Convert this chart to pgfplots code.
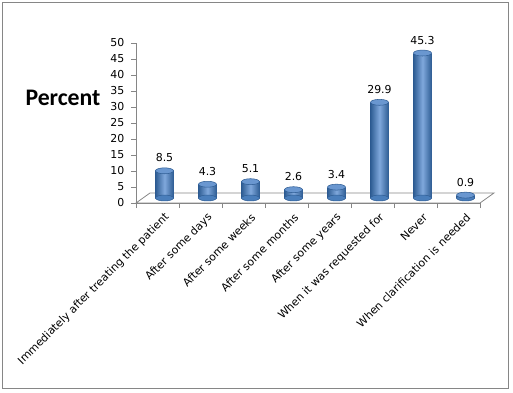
\documentclass[border=0pt]{standalone}
\usepackage{fontspec}
\setmainfont{DejaVu Sans}
\newfontfamily\carlito{Carlito}
\usepackage{pgfplots}
\pgfplotsset{compat=1.18}
\definecolor{barDark}{HTML}{2F5D94}
\definecolor{barMid}{HTML}{4A7EBB}
\definecolor{barLight}{HTML}{7FA8DC}
\definecolor{barTop}{HTML}{6A97D0}
\definecolor{axgray}{HTML}{868686}
\pgfplotsset{cyl/.style={ybar, bar shift=0pt, bar width=13.5pt, draw=none, left color=barDark, right color=barDark, middle color=barLight, xshift=5.25pt, yshift=3.75pt}}
\begin{document}
\begin{tikzpicture}
\useasboundingbox (-102pt,-141.75pt) rectangle (282.75pt,152.25pt);
\draw[axgray, line width=0.75pt] (-99.75pt,-138.75pt) rectangle (279pt,150pt);
\node[font=\carlito\bfseries\fontsize{17.8}{20}\selectfont] at (-54.75pt,78.75pt) {Percent};
\begin{axis}[
  at={(0,0)}, anchor=south west,
  scale only axis, width=258pt, height=120pt,
  xmin=0.5, xmax=8.5, ymin=0, ymax=50,
  axis lines=left,
  axis line style={draw=axgray, -, line width=0.6pt},
  ytick={0,5,...,50},
  tick align=outside,
  major tick length=3.75pt,
  tick style={draw=axgray, line width=0.6pt},
  xtick={0.5,1.5,...,8.5},
  xticklabels={},
  extra x ticks={1,2,...,8},
  extra x tick labels={Immediately after treating the patient, After some days, After some weeks, After some months, After some years, When it was requested for, Never, When clarification is needed},
  extra x tick style={major tick length=0pt, tick label style={rotate=45, anchor=east, xshift=2pt, yshift=-12pt}},
  tick label style={font=\fontsize{8.2}{9.5}\selectfont, text=black},
  yticklabel style={xshift=-1.5pt},
  /pgf/number format/assume math mode=true,
  clip=false,
]
\draw[axgray, line width=0.6pt] (axis cs:0.5,0) -- (axis cs:8.5,0) -- ([shift={(10.5pt,7.5pt)}]axis cs:8.5,0) -- ([shift={(10.5pt,7.5pt)}]axis cs:0.5,0) -- cycle;
% bottom ellipses
\addplot[only marks, mark=*, mark size=6.75pt, mark options={draw=barDark, fill=barMid, yscale=0.33}, xshift=5.25pt, yshift=3.75pt] coordinates {(1,0) (2,0) (3,0) (4,0) (5,0) (6,0) (7,0) (8,0)};
% cylinder bodies
\addplot[cyl] coordinates {(1,8.5)};
\addplot[cyl] coordinates {(2,4.3)};
\addplot[cyl] coordinates {(3,5.1)};
\addplot[cyl] coordinates {(4,2.6)};
\addplot[cyl] coordinates {(5,3.4)};
\addplot[cyl] coordinates {(6,29.9)};
\addplot[cyl] coordinates {(7,45.3)};
\addplot[cyl] coordinates {(8,0.9)};
% tops and labels
\addplot[only marks, mark=*, mark size=6.75pt, mark options={draw=barDark, fill=barTop, yscale=0.33}, xshift=5.25pt, yshift=3.75pt,
  nodes near coords, point meta=explicit symbolic,
  every node near coord/.append style={font=\fontsize{8.2}{9.5}\selectfont, text=black, anchor=south, yshift=3pt}] coordinates {(1,8.5)[8.5] (2,4.3)[4.3] (3,5.1)[5.1] (4,2.6)[2.6] (5,3.4)[3.4] (6,29.9)[29.9] (7,45.3)[45.3] (8,0.9)[0.9]};
\end{axis}
\end{tikzpicture}
\end{document}
